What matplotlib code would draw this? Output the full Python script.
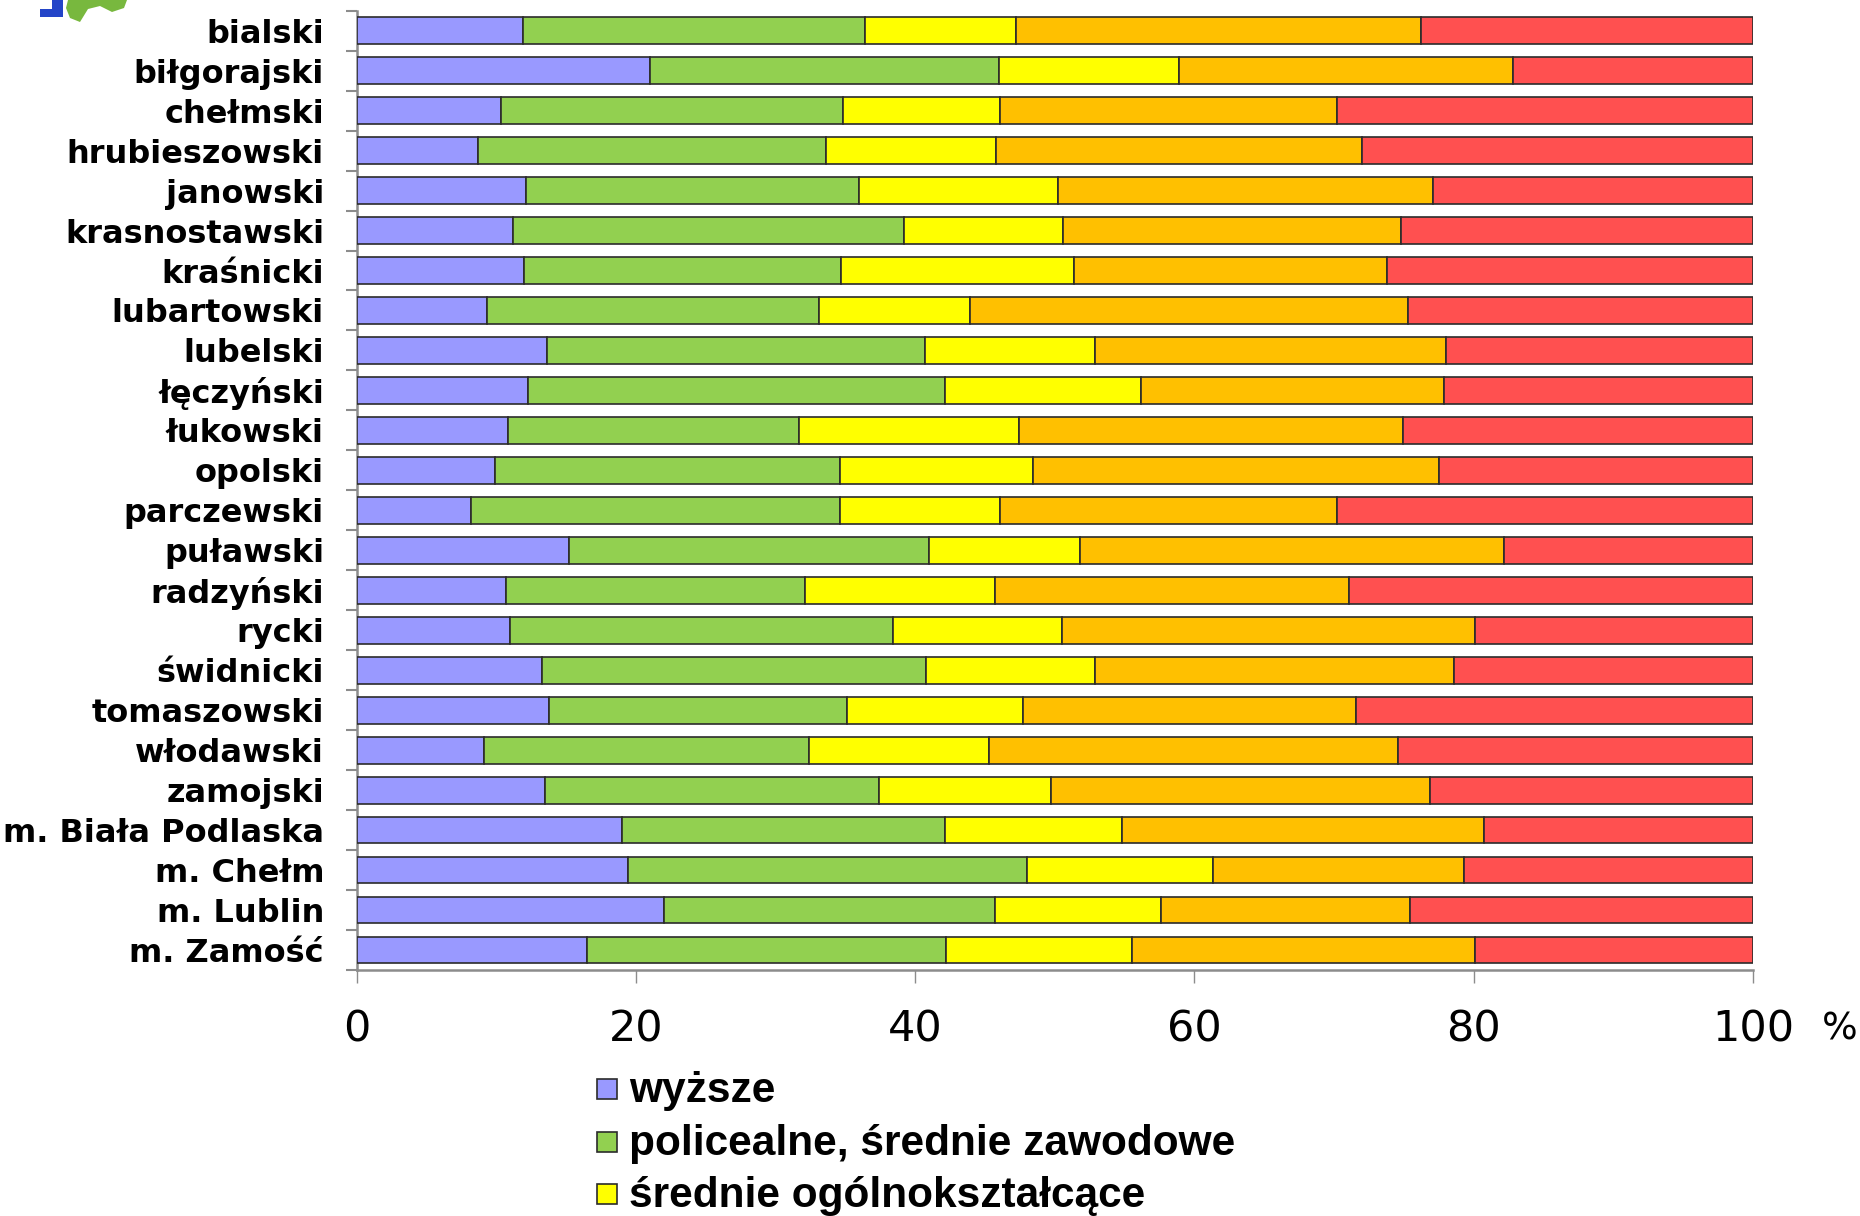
import matplotlib
matplotlib.use("Agg")
import matplotlib.pyplot as plt
from matplotlib.patches import Polygon, Rectangle
import numpy as np

W, H = 1860, 1216

powiaty = [
    "bialski", "biłgorajski", "chełmski", "hrubieszowski", "janowski",
    "krasnostawski", "kraśnicki", "lubartowski", "lubelski", "łęczyński",
    "łukowski", "opolski", "parczewski", "puławski", "radzyński", "rycki",
    "świdnicki", "tomaszowski", "włodawski", "zamojski",
    "m. Biała Podlaska", "m. Chełm", "m. Lublin", "m. Zamość",
]

wyzsze = [11.9, 21.0, 10.3, 8.7, 12.1, 11.2, 12.0, 9.3, 13.6, 12.3, 10.8, 9.9,
          8.2, 15.2, 10.7, 11.0, 13.3, 13.8, 9.1, 13.5, 19.0, 19.4, 22.0, 16.5]
policealne = [24.5, 25.0, 24.5, 24.9, 23.9, 28.0, 22.7, 23.8, 27.1, 29.8, 20.9, 24.7,
              26.4, 25.8, 21.4, 27.4, 27.5, 21.3, 23.3, 23.9, 23.1, 28.6, 23.7, 25.7]
srednie_ogolne = [10.8, 12.9, 11.3, 12.2, 14.2, 11.4, 16.7, 10.8, 12.2, 14.1, 15.7, 13.8,
                  11.5, 10.8, 13.6, 12.1, 12.1, 12.6, 12.9, 12.3, 12.7, 13.3, 11.9, 13.3]
zasadnicze = [29.0, 23.9, 24.1, 26.2, 26.9, 24.2, 22.4, 31.4, 25.1, 21.7, 27.5, 29.1,
              24.1, 30.4, 25.4, 29.6, 25.7, 23.9, 29.3, 27.2, 25.9, 18.0, 17.8, 24.6]
nizsze = [23.8, 17.2, 29.8, 28.0, 22.9, 25.2, 26.2, 24.7, 22.0, 22.1, 25.1, 22.5,
          29.8, 17.8, 28.9, 19.9, 21.4, 28.4, 25.4, 23.1, 19.3, 20.7, 24.6, 19.9]

series_names = ["wyższe", "policealne, średnie zawodowe", "średnie ogólnokształcące",
                "zasadnicze zawodowe", "gimnazjalne, podstawowe i niższe"]
series_colors = ["#9999FF", "#92D050", "#FFFF00", "#FFC000", "#FF5050"]
x_ticks = [0, 20, 40, 60, 80, 100]


def fx(px):
    return px / W


def fy(py):
    return 1 - py / H


fig = plt.figure(figsize=(W / 100, H / 100), dpi=100)
ax = fig.add_axes([fx(356.7), fy(970), fx(1753) - fx(356.7), fy(10.7) - fy(970)])

y = np.arange(len(powiaty))
left = np.zeros(len(powiaty))
for vals, name, color in zip([wyzsze, policealne, srednie_ogolne, zasadnicze, nizsze],
                             series_names, series_colors):
    vals = np.array(vals)
    ax.barh(y, vals, left=left, height=0.67, color=color, edgecolor="#2b2b2b",
            linewidth=1.2, label=name, zorder=3)
    left += vals

ax.set_xlim(0, 100)
ax.set_ylim(len(powiaty) - 0.5, -0.5)
for side in ("top", "right"):
    ax.spines[side].set_visible(False)
for side in ("left", "bottom"):
    ax.spines[side].set_color("#8c8c8c")
    ax.spines[side].set_linewidth(1.8)

ax.set_yticks(y)
ax.set_yticklabels(powiaty, fontsize=23, fontweight="bold", family="DejaVu Sans")
ax.set_yticks(np.arange(-0.5, len(powiaty), 1), minor=True)
ax.tick_params(axis="y", which="major", length=0, pad=23.5)
ax.tick_params(axis="y", which="minor", length=8, width=1.5, color="#8c8c8c")

ax.set_xticks(x_ticks)
ax.set_xticklabels([str(t) for t in x_ticks], fontsize=31, family="DejaVu Sans")
ax.tick_params(axis="x", length=9, width=1, color="#8c8c8c", pad=19)

fig.text(fx(1840), fy(1029), "%", fontsize=27, ha="center", va="center",
         family="DejaVu Sans")

# legend (only the first three rows fit on the canvas)
row_y = [1091, 1144, 1196]
for ry, name, color in zip(row_y, series_names[:3], series_colors[:3]):
    fig.patches.append(Rectangle((fx(597), fy(ry + 8)), fx(20), 20 / H,
                                 transform=fig.transFigure, facecolor=color,
                                 edgecolor="#2b2b2b", linewidth=1.2))
    fig.text(fx(629), fy(ry), name, fontsize=30.5, fontweight="bold",
             family="Liberation Sans", ha="left", va="center")

# logo fragment in the top-left corner
blue_logo = [(52, 0), (63, 0), (63, 17), (40, 17), (40, 9), (52, 9)]
green_logo = [(68, 0), (127, 0), (124, 8), (112, 12), (100, 6), (88, 9), (80, 22), (70, 18), (66, 8)]
for pts, col in ((blue_logo, "#2445c8"), (green_logo, "#78b83e")):
    fig.patches.append(Polygon([(fx(px), fy(py)) for px, py in pts], closed=True,
                               transform=fig.transFigure, facecolor=col, edgecolor="none"))

fig.savefig("out.png", dpi=100)
